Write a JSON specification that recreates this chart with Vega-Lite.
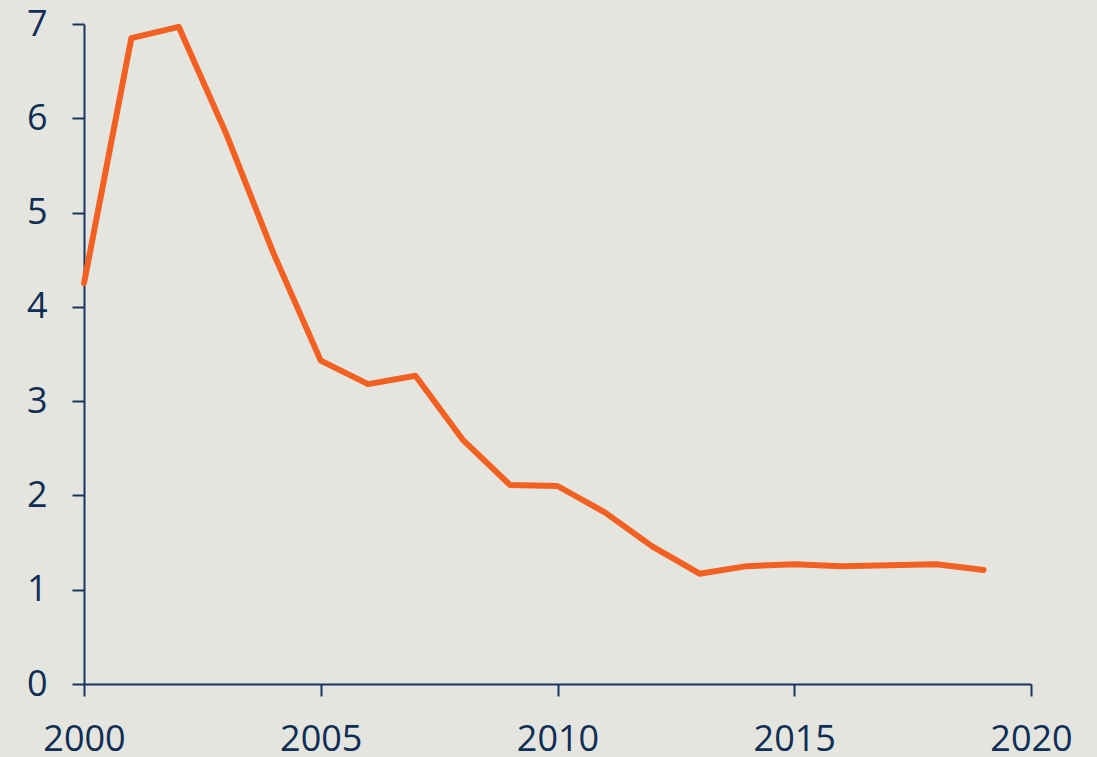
{
  "$schema": "https://vega.github.io/schema/vega-lite/v6.json",
  "autosize": {"type": "none"},
  "width": 947,
  "height": 660,
  "padding": {"left": 84, "top": 24, "right": 66, "bottom": 73},
  "background": "#e5e5df",
  "config": {
    "view": {"stroke": null},
    "axis": {
      "grid": false,
      "domainColor": "#17355e",
      "tickColor": "#17355e",
      "domainWidth": 2,
      "tickWidth": 2,
      "tickSize": 12,
      "labelColor": "#0f2e56",
      "labelFont": "Open Sans",
      "labelFontSize": 36,
      "title": null
    }
  },
  "data": {
    "values": [
      {"year": 2000, "value": 4.25},
      {"year": 2001, "value": 6.85},
      {"year": 2002, "value": 6.97},
      {"year": 2003, "value": 5.84},
      {"year": 2004, "value": 4.57},
      {"year": 2005, "value": 3.43},
      {"year": 2006, "value": 3.18},
      {"year": 2007, "value": 3.27},
      {"year": 2008, "value": 2.59},
      {"year": 2009, "value": 2.11},
      {"year": 2010, "value": 2.10},
      {"year": 2011, "value": 1.82},
      {"year": 2012, "value": 1.46},
      {"year": 2013, "value": 1.17},
      {"year": 2014, "value": 1.25},
      {"year": 2015, "value": 1.27},
      {"year": 2016, "value": 1.25},
      {"year": 2017, "value": 1.26},
      {"year": 2018, "value": 1.27},
      {"year": 2019, "value": 1.21}
    ]
  },
  "mark": {"type": "line", "color": "#f26122", "strokeWidth": 6, "strokeCap": "round", "strokeJoin": "round"},
  "encoding": {
    "x": {
      "field": "year",
      "type": "quantitative",
      "scale": {"domain": [2000, 2020], "nice": false, "zero": false},
      "axis": {"values": [2000, 2005, 2010, 2015, 2020], "format": "d", "labelPadding": 26, "labelFlush": false}
    },
    "y": {
      "field": "value",
      "type": "quantitative",
      "scale": {"domain": [0, 7], "nice": false},
      "axis": {"values": [0, 1, 2, 3, 4, 5, 6, 7], "labelPadding": 25}
    }
  }
}
